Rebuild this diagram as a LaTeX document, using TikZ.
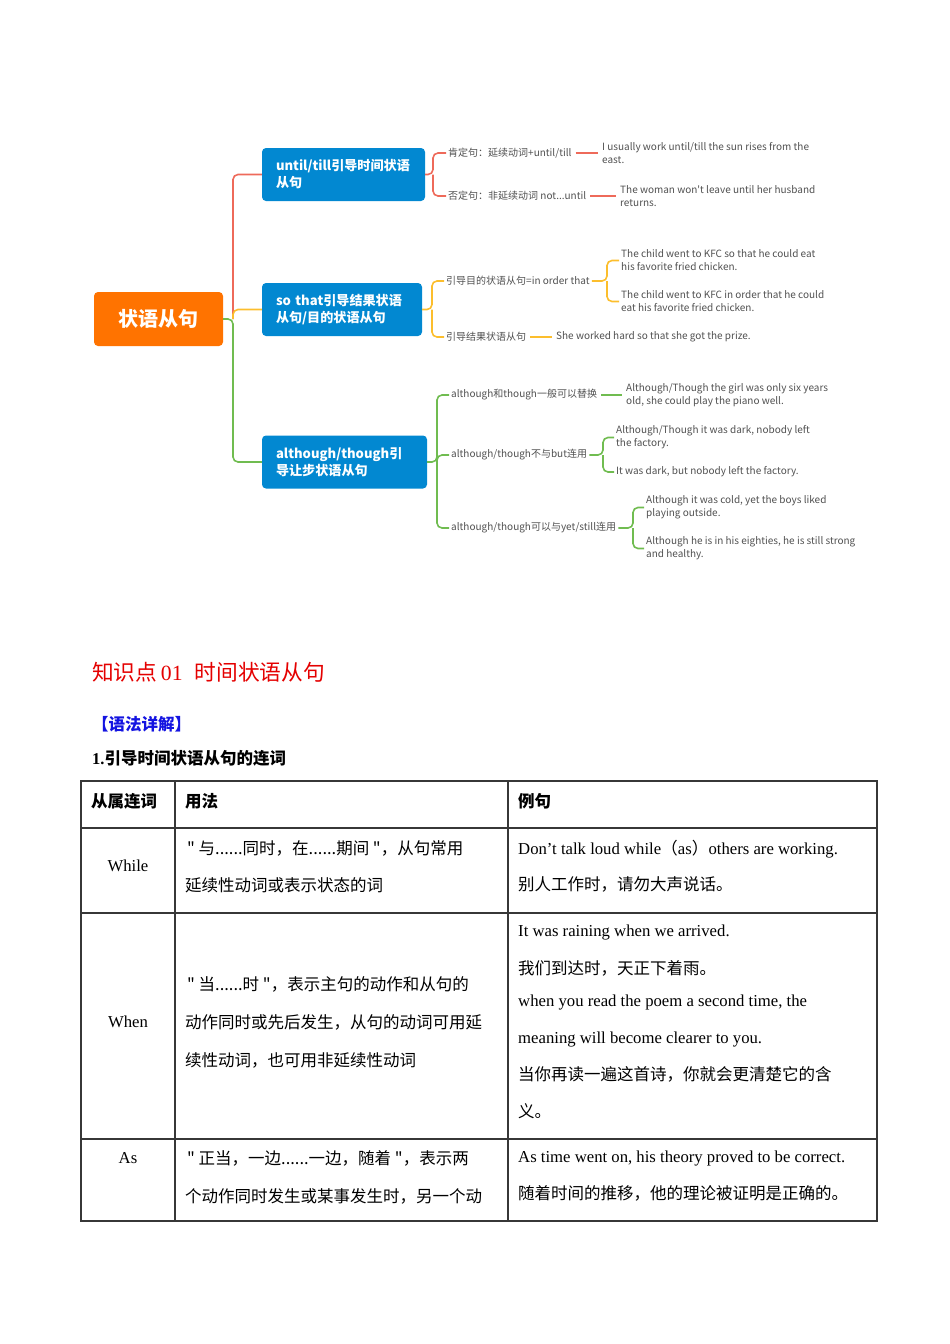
\documentclass[tikz,border=0pt]{standalone}
\usepackage{fontspec}
\setmainfont{Liberation Serif}
\newfontfamily\cjk{Noto Sans CJK SC}
\usepackage{xcolor}
\usetikzlibrary{positioning}
\definecolor{rootorange}{RGB}{255,115,0}
\definecolor{boxblue}{RGB}{2,136,209}
\definecolor{branchred}{RGB}{238,106,90}
\definecolor{branchyellow}{RGB}{252,190,45}
\definecolor{branchgreen}{RGB}{112,188,80}
\definecolor{mapgray}{RGB}{80,80,80}
\definecolor{titlered}{RGB}{228,0,0}
\definecolor{headblue}{RGB}{20,20,225}
\definecolor{rulegray}{RGB}{55,55,55}

\begin{document}
\begin{tikzpicture}[x=1pt, y=-1pt,
  rootbox/.style={fill=rootorange, rounded corners=4pt, text=white, minimum width=129pt, minimum height=54pt, font=\cjk\bfseries\fontsize{20pt}{24pt}\selectfont},
  bluebox/.style={fill=boxblue, rounded corners=4pt, text=white, align=left, inner xsep=14pt, minimum height=53pt, font=\cjk\bfseries\fontsize{13.1pt}{17pt}\selectfont},
  maptext/.style={anchor=west, inner sep=2pt, text=mapgray, align=left, font=\cjk\fontsize{10pt}{13pt}\selectfont},
  redline/.style={draw=branchred, line width=1.6pt, rounded corners=5pt},
  yellowline/.style={draw=branchyellow, line width=1.6pt, rounded corners=5pt},
  greenline/.style={draw=branchgreen, line width=1.6pt, rounded corners=5pt},
  gap/.style={shorten <=2pt, shorten >=2pt},
  tabtext/.style={anchor=west, inner sep=0pt, font=\fontsize{16.7pt}{20pt}\selectfont},
  tabcjk/.style={anchor=west, inner sep=0pt, font=\cjk\fontsize{16.5pt}{20pt}\selectfont},
  tabhead/.style={anchor=west, inner sep=0pt, font=\cjk\bfseries\fontsize{16.5pt}{20pt}\selectfont},
  tabrule/.style={draw=rulegray, line width=1.5pt}]
  \useasboundingbox (0,0) rectangle (950,1344);

  \node[rootbox] (root) at (158.5,319) {状语从句};
  \node[bluebox, text width=135pt] (tilltime) at (343.5,174.5) {until/till引导时间状语\\从句};
  \node[bluebox, text width=132pt] (sothat) at (342,309.5) {so that引导结果状语\\从句/目的状语从句};
  \node[bluebox, text width=137pt] (although) at (344.5,462) {although/though引\\导让步状语从句};

  \coordinate (trunk) at (233,319);
  \draw[redline] (trunk) |- (tilltime.west);
  \draw[yellowline] (trunk) |- (sothat.west);
  \draw[greenline] (root.east) -- (trunk) |- (although.west);

  \node[maptext] (pos) at (446,153) {肯定句：延续动词+until/till};
  \node[maptext] (neg) at (446,196) {否定句：非延续动词 not...until};
  \node[maptext] (posex) at (600,153.5) {I usually work until/till the sun rises from the\\east.};
  \node[maptext] (negex) at (618,196) {The woman won't leave until her husband\\returns.};
  \coordinate (tilljoin) at (433,174.5);
  \draw[redline] (tilltime.east) -- (tilljoin) |- (pos.west);
  \draw[redline] (tilljoin) |- (neg.west);
  \draw[redline, gap] (pos.east) -- (pos.east -| posex.west);
  \draw[redline, gap] (neg.east) -- (neg.east -| negex.west);

  \node[maptext] (purpose) at (444,281) {引导目的状语从句=in order that};
  \node[maptext] (result) at (444,337) {引导结果状语从句};
  \node[maptext] (purposeexa) at (619,260.5) {The child went to KFC so that he could eat\\his favorite fried chicken.};
  \node[maptext] (purposeexb) at (619,301.5) {The child went to KFC in order that he could\\eat his favorite fried chicken.};
  \node[maptext] (resultex) at (554,337) {She worked hard so that she got the prize.};
  \coordinate (sojoin) at (432,309.5);
  \coordinate (purposejoin) at (607,281);
  \draw[yellowline] (sothat.east) -- (sojoin) |- (purpose.west);
  \draw[yellowline] (sojoin) |- (result.west);
  \draw[yellowline] (purpose.east) -- (purposejoin) |- (purposeexa.west);
  \draw[yellowline] (purposejoin) |- (purposeexb.west);
  \draw[yellowline, gap] (result.east) -- (result.east -| resultex.west);

  \node[maptext] (swap) at (449,395) {although和though一般可以替换};
  \node[maptext] (nobut) at (449,455) {although/though不与but连用};
  \node[maptext] (yetstill) at (449,528) {although/though可以与yet/still连用};
  \node[maptext] (swapex) at (624,395) {Although/Though the girl was only six years\\old, she could play the piano well.};
  \node[maptext] (nobutexa) at (614,437.5) {Although/Though it was dark, nobody left\\the factory.};
  \node[maptext] (nobutexb) at (614,472) {It was dark, but nobody left the factory.};
  \node[maptext] (yetexa) at (644,507.5) {Although it was cold, yet the boys liked\\playing outside.};
  \node[maptext] (yetexb) at (644,548.5) {Although he is in his eighties, he is still strong\\and healthy.};
  \coordinate (thoughjoin) at (437,462);
  \coordinate (nobutjoin) at (603,455);
  \coordinate (yetjoin) at (633,528);
  \draw[greenline] (although.east) -- (thoughjoin) |- (swap.west);
  \draw[greenline] (thoughjoin) |- (nobut.west);
  \draw[greenline] (thoughjoin) |- (yetstill.west);
  \draw[greenline, gap] (swap.east) -- (swap.east -| swapex.west);
  \draw[greenline] (nobut.east) -- (nobutjoin) |- (nobutexa.west);
  \draw[greenline] (nobutjoin) |- (nobutexb.west);
  \draw[greenline] (yetstill.east) -- (yetjoin) |- (yetexa.west);
  \draw[greenline] (yetjoin) |- (yetexb.west);

  \node[anchor=west, inner sep=0pt, text=titlered, font=\fontsize{21.7pt}{26pt}\selectfont] (title) at (92,672) {{\cjk 知识点}\,01\hspace{12pt}{\cjk 时间状语从句}};
  \node[anchor=west, inner sep=0pt, text=headblue, font=\cjk\bfseries\fontsize{16.5pt}{20pt}\selectfont] (grammar) at (92,724) {【语法详解】};
  \node[anchor=west, inner sep=0pt, font=\bfseries\fontsize{16.5pt}{20pt}\selectfont] (subtitle) at (92,758) {1.{\cjk 引导时间状语从句的连词}};

  \draw[tabrule] (81,781) rectangle (877,1221);
  \draw[tabrule] (175,781) -- (175,1221);
  \draw[tabrule] (508,781) -- (508,1221);
  \draw[tabrule] (81,828) -- (877,828);
  \draw[tabrule] (81,913) -- (877,913);
  \draw[tabrule] (81,1139) -- (877,1139);

  \node[tabhead] (headword) at (91,801) {从属连词};
  \node[tabhead] (headuse) at (185,801) {用法};
  \node[tabhead] (headex) at (518,801) {例句};

  \node[tabtext, anchor=center] (while) at (128,866) {While};
  \node[tabcjk] (whileusea) at (187,848) {"\ 与......同时，在......期间\ "，从句常用};
  \node[tabcjk] (whileuseb) at (185,885) {延续性动词或表示状态的词};
  \node[tabtext] (whileexa) at (518,849) {Don’t talk loud while{\cjk （}as{\cjk ）}others are working.};
  \node[tabcjk] (whileexb) at (518,884) {别人工作时，请勿大声说话。};

  \node[tabtext, anchor=center] (when) at (128,1022) {When};
  \node[tabcjk] (whenusea) at (187,984) {"\ 当......时\ "，表示主句的动作和从句的};
  \node[tabcjk] (whenuseb) at (185,1022) {动作同时或先后发生，从句的动词可用延};
  \node[tabcjk] (whenusec) at (185,1060) {续性动词，也可用非延续性动词};
  \node[tabtext] (whenexa) at (518,932) {It was raining when we arrived.};
  \node[tabcjk] (whenexb) at (518,968) {我们到达时，天正下着雨。};
  \node[tabtext] (whenexc) at (518,1002) {when you read the poem a second time, the};
  \node[tabtext] (whenexd) at (518,1039) {meaning will become clearer to you.};
  \node[tabcjk] (whenexe) at (518,1074) {当你再读一遍这首诗，你就会更清楚它的含};
  \node[tabcjk] (whenexf) at (518,1111) {义。};

  \node[tabtext, anchor=center] (as) at (128,1158) {As};
  \node[tabcjk] (asusea) at (187,1158) {"\ 正当，一边......一边，随着\ "，表示两};
  \node[tabcjk] (asuseb) at (185,1196) {个动作同时发生或某事发生时，另一个动};
  \node[tabtext] (asexa) at (518,1158) {As time went on, his theory proved to be correct.};
  \node[tabcjk] (asexb) at (518,1193) {随着时间的推移，他的理论被证明是正确的。};
\end{tikzpicture}
\end{document}
